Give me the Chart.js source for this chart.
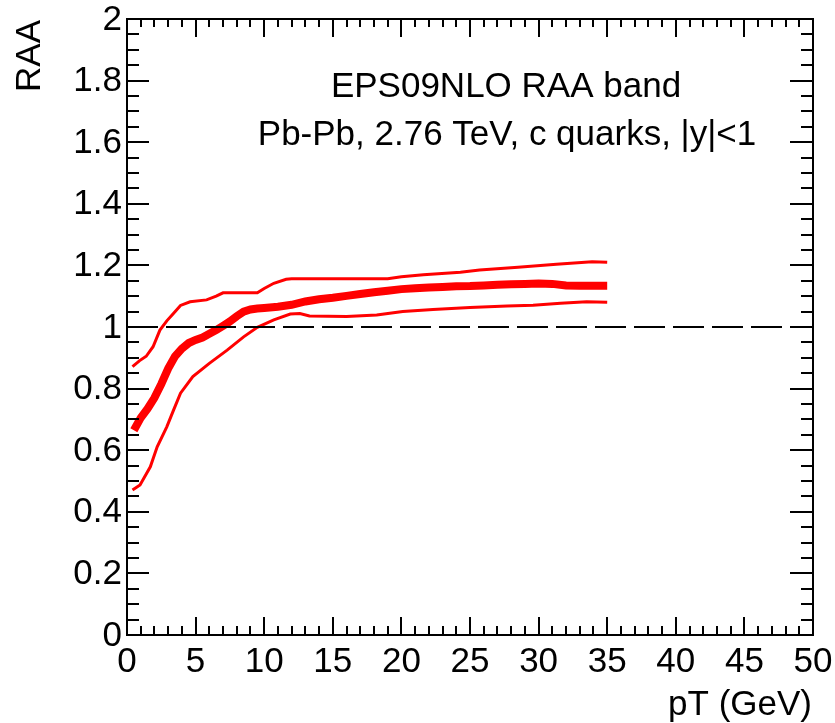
<!DOCTYPE html>
<html>
<head>
<meta charset="utf-8">
<script src="https://cdn.jsdelivr.net/npm/chart.js@4"></script>
<style>
  html, body { margin: 0; padding: 0; background: #ffffff; }
  canvas { display: block; }
</style>
</head>
<body>
<canvas id="chart" width="835" height="723"></canvas>
<script>
// Central EPS09NLO nuclear modification factor for c quarks
const ptCentral  = [0.5, 1.0, 1.5, 2.0, 2.5, 3.0, 3.5, 4.0, 4.5, 5.0, 5.5, 6.0, 6.5, 7.0, 7.5, 8.0, 8.5, 9.0, 9.5, 10,
                    11, 12, 13, 14, 15, 16, 17, 18, 19, 20, 21, 22, 23, 24, 25, 26, 27, 28, 29, 30, 31, 32, 33, 34, 35];
const raaCentral = [0.665, 0.705, 0.735, 0.770, 0.815, 0.865, 0.905, 0.930, 0.948, 0.958, 0.966, 0.978, 0.990, 1.004, 1.018, 1.035, 1.050, 1.057, 1.060, 1.062,
                    1.066, 1.072, 1.083, 1.090, 1.095, 1.101, 1.107, 1.113, 1.118, 1.123, 1.126, 1.128, 1.130, 1.132, 1.133, 1.135, 1.137, 1.139, 1.140, 1.141, 1.140, 1.135, 1.134, 1.134, 1.134];

// Upper edge of the uncertainty band
const ptUpper  = [0.4, 0.9, 1.4, 1.9, 2.4, 2.9, 3.4, 3.9, 4.6, 5.8, 6.5, 7.0, 9.5, 10.0, 10.7, 11.6, 12, 19, 20, 21.6, 24.3, 25.7, 28.5, 31.3, 33.9, 35];
const raaUpper = [0.871, 0.890, 0.905, 0.936, 0.990, 1.020, 1.045, 1.070, 1.082, 1.088, 1.100, 1.111, 1.111, 1.125, 1.142, 1.155, 1.157, 1.157, 1.163, 1.170, 1.178, 1.185, 1.194, 1.204, 1.212, 1.210];

// Lower edge of the uncertainty band
const ptLower  = [0.4, 0.95, 1.7, 2.2, 2.9, 3.4, 3.9, 4.8, 6.0, 7.3, 8.5, 9.5, 10.7, 11.9, 12.6, 13.3, 16.0, 18.2, 20.1, 22.3, 25.0, 27.7, 29.6, 31.6, 33.5, 35];
const raaLower = [0.471, 0.487, 0.546, 0.611, 0.676, 0.731, 0.785, 0.839, 0.882, 0.925, 0.968, 0.999, 1.023, 1.042, 1.044, 1.036, 1.034, 1.039, 1.050, 1.057, 1.063, 1.068, 1.071, 1.077, 1.082, 1.080];

// Axes
const xMajorTicks = [0, 5, 10, 15, 20, 25, 30, 35, 40, 45, 50];
const xTickLabels = ['0', '5', '10', '15', '20', '25', '30', '35', '40', '45', '50'];
const yMajorTicks = [0, 0.2, 0.4, 0.6, 0.8, 1.0, 1.2, 1.4, 1.6, 1.8, 2.0];
const yTickLabels = ['0', '0.2', '0.4', '0.6', '0.8', '1', '1.2', '1.4', '1.6', '1.8', '2'];
const xMinorStep = 1;
const yMinorStep = 0.05;
const xTitle = 'pT (GeV)';
const yTitle = 'RAA';
const infoLines = ['EPS09NLO RAA band', 'Pb-Pb, 2.76 TeV, c quarks, |y|<1'];
const unityLevel = 1;

const FONT = '"Liberation Sans", Arial, sans-serif';
const RED = '#ff0000';

const toPoints = (xs, ys) => xs.map((x, i) => ({ x: x, y: ys[i] }));

// Frame, inward ticks on all four sides, labels and caption text
const framePlugin = {
  id: 'rootFrame',
  afterDraw(chart) {
    const ctx = chart.ctx;
    const xs = chart.scales.x, ys = chart.scales.y;
    const a = chart.chartArea;
    ctx.save();
    ctx.strokeStyle = '#000000';
    ctx.lineWidth = 2;
    ctx.lineCap = 'butt';
    ctx.strokeRect(a.left, a.top, a.right - a.left, a.bottom - a.top);

    ctx.beginPath();
    // x ticks (bottom and top)
    for (let v = xs.min; v <= xs.max + 1e-9; v += xMinorStep) {
      const px = Math.round(xs.getPixelForValue(v));
      const major = xMajorTicks.some(t => Math.abs(t - v) < 1e-6);
      const lb = major ? 18 : 9;
      const lt = major ? 18 : 8;
      ctx.moveTo(px, a.bottom); ctx.lineTo(px, a.bottom - lb);
      ctx.moveTo(px, a.top); ctx.lineTo(px, a.top + lt);
    }
    // y ticks (left and right)
    for (let v = ys.min; v <= ys.max + 1e-9; v += yMinorStep) {
      const py = Math.round(ys.getPixelForValue(v));
      const major = yMajorTicks.some(t => Math.abs(t - v) < 1e-6);
      const ll = major ? 22 : 12;
      const lr = major ? 23 : 12;
      ctx.moveTo(a.left, py); ctx.lineTo(a.left + ll, py);
      ctx.moveTo(a.right, py); ctx.lineTo(a.right - lr, py);
    }
    ctx.stroke();

    ctx.fillStyle = '#000000';
    ctx.font = '35px ' + FONT;
    // y tick labels
    ctx.textAlign = 'right';
    ctx.textBaseline = 'middle';
    yMajorTicks.forEach((t, i) => {
      ctx.fillText(yTickLabels[i], a.left - 5, ys.getPixelForValue(t) + 1);
    });
    // x tick labels
    ctx.textAlign = 'center';
    ctx.textBaseline = 'alphabetic';
    xMajorTicks.forEach((t, i) => {
      ctx.fillText(xTickLabels[i], xs.getPixelForValue(t), a.bottom + 37);
    });
    // axis titles
    ctx.textAlign = 'right';
    ctx.fillText(xTitle, a.right - 1, 715);
    ctx.save();
    ctx.translate(40, a.top + 1);
    ctx.rotate(-Math.PI / 2);
    ctx.textAlign = 'right';
    ctx.fillText(yTitle, 0, 0);
    ctx.restore();
    // caption
    ctx.textAlign = 'center';
    ctx.fillText(infoLines[0], 506, 97);
    ctx.fillText(infoLines[1], 507, 145);
    ctx.restore();
  }
};

new Chart(document.getElementById('chart'), {
  type: 'line',
  data: {
    datasets: [
      {
        label: 'unity',
        data: [{ x: 0, y: unityLevel }, { x: 50, y: unityLevel }],
        borderColor: '#000000',
        borderWidth: 2,
        borderDash: [31, 8],
        pointRadius: 0
      },
      {
        label: 'central',
        data: toPoints(ptCentral, raaCentral),
        borderColor: RED,
        borderWidth: 8,
        pointRadius: 0
      },
      {
        label: 'upper',
        data: toPoints(ptUpper, raaUpper),
        borderColor: RED,
        borderWidth: 3,
        pointRadius: 0
      },
      {
        label: 'lower',
        data: toPoints(ptLower, raaLower),
        borderColor: RED,
        borderWidth: 3,
        pointRadius: 0
      }
    ]
  },
  options: {
    responsive: false,
    animation: false,
    events: [],
    layout: { padding: { left: 127, top: 19, right: 22, bottom: 88 } },
    plugins: { legend: { display: false }, tooltip: { enabled: false } },
    elements: { line: { tension: 0, fill: false } },
    scales: {
      x: { type: 'linear', min: 0, max: 50, display: false },
      y: { type: 'linear', min: 0, max: 2, display: false }
    }
  },
  plugins: [framePlugin]
});
</script>
</body>
</html>
